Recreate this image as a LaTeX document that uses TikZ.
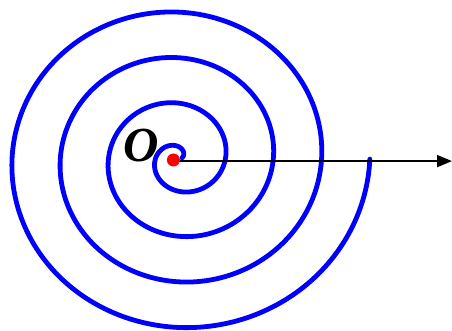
\documentclass[tikz,border=0pt]{standalone}
\usepackage{fontspec}
\setmainfont{Liberation Serif}
\usetikzlibrary{arrows.meta}
\tikzset{
  spiralline/.style={draw=blue, line width=4.8pt, line cap=round, line join=round},
  axisline/.style={draw=black, line width=1.8pt, -{Triangle[length=15pt,width=12pt]}},
  poledot/.style={circle, fill=red, inner sep=0pt, minimum size=13pt},
  polelabel/.style={font=\fontsize{49}{49}\selectfont\bfseries\itshape, inner sep=0pt}
}
\begin{document}
\begin{tikzpicture}[x=1pt, y=-1pt,
  declare function={rr(\t)=7.687*\t-2.2+4*exp(-\t/3);}]
\useasboundingbox (0,0) rectangle (452,331);
\coordinate (A) at (173.4,161.1);
\coordinate (E) at (452,161.1);
\draw[spiralline] plot[domain=0.2:25.1327, samples=500, smooth]
  ({178.9+rr(\x)*cos(\x r)}, {158.4-0.945*rr(\x)*sin(\x r)});
\draw[axisline] (A) -- (E);
\node[poledot] (O) at (173.4,160.0) {};
\node[polelabel] (lab) at (141,146) {O};
\end{tikzpicture}
\end{document}
